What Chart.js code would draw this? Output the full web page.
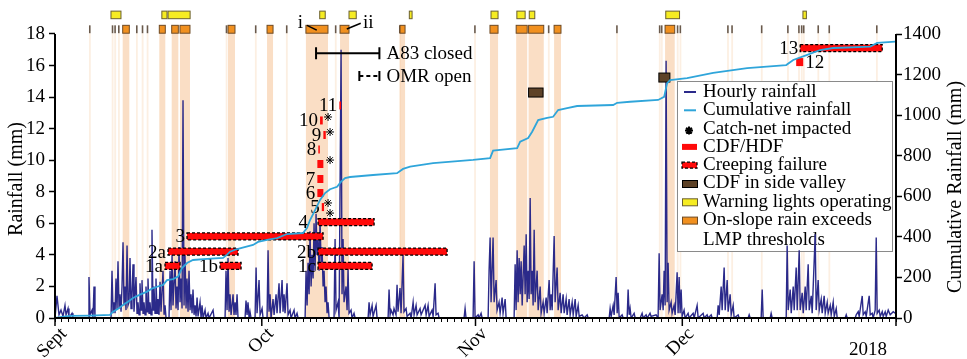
<!DOCTYPE html>
<html>
<head>
<meta charset="utf-8">
<script src="https://cdn.jsdelivr.net/npm/chart.js@4.4.0/dist/chart.umd.min.js"></script>
<style>
  html, body { margin: 0; padding: 0; background: #fff; }
</style>
</head>
<body>
<canvas id="chartCanvas" width="967" height="359"></canvas>
<script>
// x values are days since 1 Sept 2017
const MONTH_TICKS = [0, 30, 61, 91, 122];
const MONTH_LABELS = ['Sept', 'Oct', 'Nov', 'Dec', '2018'];
const RAIN_TICKS = [0, 2, 4, 6, 8, 10, 12, 14, 16, 18];
const CUM_TICKS = [0, 200, 400, 600, 800, 1000, 1200, 1400];

// hourly rainfall (mm), [day, mm]
const hourlyRain = [
  [0,0],[0.29,1.4],[0.58,0.2],[0.87,0.5],[1.16,0.1],[1.45,0.8],[1.60,0.2],[1.89,0.6],[2.03,0],[2.47,0.3],[2.61,0],
  [4.79,0],[4.93,2.6],[5.08,0.2],[5.37,0.5],[5.51,0],[5.66,2.0],[5.80,0],
  [8.13,0],[8.27,3.0],[8.42,0.3],[8.56,1.0],[8.71,0.3],[8.85,2.5],[9.00,0.5],[9.14,3.6],[9.29,0.6],[9.43,1.5],[9.58,0.4],
  [9.72,2.0],[9.87,4.8],[10.01,0.8],[10.16,2.0],[10.30,0.5],[10.45,4.6],[10.59,0.8],[10.74,1.0],[10.88,3.8],[11.03,0.6],
  [11.17,1.5],[11.32,3.4],[11.46,0.4],[11.75,2.6],[11.90,0.3],[12.04,1.0],[12.19,0.2],[12.33,2.2],[12.48,0.5],[12.62,2.4],
  [12.77,0.3],[12.91,1.0],[13.06,0.2],[13.20,2.0],[13.35,0.4],[13.49,2.5],[13.64,0.3],[13.78,1.0],[13.93,0.2],[14.07,5.6],
  [14.22,0.5],[14.36,2.0],[14.51,0.3],[14.65,2.5],[14.80,0.3],[14.94,1.2],[15.09,0.2],[15.24,2.3],[15.38,0.4],[15.67,3.0],
  [15.82,0.2],[15.96,0.8],[16.11,0],
  [16.54,0],[16.69,3.0],[16.83,0.5],[16.98,4.0],[17.12,0.8],[17.41,3.6],[17.56,0.6],[17.70,2.0],[17.85,0.5],[17.99,4.5],
  [18.14,1.0],[18.28,2.5],[18.43,0.6],[18.57,13.8],[18.72,0.8],[18.86,4.0],[19.01,0.6],[19.15,2.5],[19.30,0.4],[19.44,3.0],
  [19.59,0.5],[19.73,1.5],[19.88,0.3],[20.02,1.8],[20.17,0.2],[20.32,0.8],[20.46,0.1],[20.61,1.3],[20.75,0.1],[21.04,1.0],
  [21.19,0],[21.33,0.8],[21.48,0],[21.77,0.5],[21.91,0],[22.20,0.3],[22.35,0],[22.93,0.5],[23.07,0],
  [24.67,0],[24.81,3.0],[24.96,0.5],[25.10,3.8],[25.25,0.4],[25.39,1.5],[25.54,0.2],[25.83,1.5],[25.97,0.2],[26.12,1.0],
  [26.26,0.2],[26.41,1.5],[26.55,0],
  [27.57,0],[27.71,1.1],[27.86,0.2],[28.00,1.0],[28.15,0],[28.29,0.4],[28.44,0],
  [29.02,0],[29.17,3.2],[29.31,0.3],[29.60,2.4],[29.75,0.2],[30.04,0.6],[30.18,0],
  [30.76,0],[30.91,4.3],[31.05,0.4],[31.20,1.5],[31.34,0],[31.63,1.2],[31.78,0.2],[32.07,1.5],[32.21,0.3],[32.50,2.2],
  [32.65,0.3],[32.94,2.4],[33.08,0.4],[33.23,1.5],[33.37,0.3],[33.66,2.2],[33.81,0.2],[34.10,0.5],[34.24,0],[34.68,0.5],
  [34.82,0],[35.11,0.3],[35.26,0],
  [36.28,0],[36.42,3.0],[36.57,0.8],[36.71,3.5],[36.86,1.5],[37.00,5.5],[37.15,2.0],[37.29,4.0],[37.44,2.5],[37.58,6.0],
  [37.73,3.0],[37.87,6.6],[38.02,4.0],[38.16,5.0],[38.31,3.0],[38.45,6.2],[38.60,3.5],[38.74,4.5],[38.89,2.0],[39.03,3.0],
  [39.18,1.0],[39.32,2.0],[39.47,0.3],[39.61,1.0],[39.76,0],
  [40.48,0],[40.63,5.0],[40.77,0.5],[41.06,1.0],[41.21,0],[41.50,17.0],[41.64,1.5],[41.79,5.0],[41.93,1.0],[42.22,2.0],
  [42.37,0.5],[42.51,3.1],[42.66,0.3],[42.95,0.5],[43.09,0],[43.38,0.3],[43.53,0],
  [45.42,0],[45.56,1.0],[45.71,0.2],[46.00,0.8],[46.14,0.1],[46.58,0.8],[46.72,0],
  [48.32,0],[48.46,1.8],[48.61,0.2],[48.75,0.5],[49.04,0.2],[49.18,0.6],[49.47,0.2],[49.62,2.1],[49.76,0.4],[50.05,1.9],
  [50.20,0.3],[50.49,4.0],[50.63,0.4],[50.93,0.6],[51.07,0.1],[51.51,0.3],[51.66,0],[51.95,1.0],[52.09,0.2],[52.38,0.8],
  [52.53,0.2],[52.96,0.6],[53.11,0.2],[53.69,0.8],[53.84,0.2],[54.12,0.8],[54.27,0.1],[54.70,0.5],[54.85,0.1],[55.14,2.2],
  [55.28,0.2],[55.57,0.3],[55.72,0],
  [59.34,0],[59.49,0.6],[59.63,0],[60.65,0],[60.80,3.6],[60.94,0],[61.38,0.2],[61.52,0],[61.81,0.3],[61.96,0],
  [62.83,0],[62.97,3.0],[63.12,5.1],[63.26,1.0],[63.55,5.1],[63.70,1.0],[63.99,2.4],[64.13,0.5],[64.42,1.0],[64.57,0.3],
  [64.86,1.3],[65.00,0.3],[65.30,1.2],[65.44,0],
  [66.60,0],[66.75,3.4],[66.89,0.5],[67.04,4.3],[67.18,1.0],[67.33,3.8],[67.48,1.5],[67.62,3.6],[67.77,0.8],[68.06,4.6],
  [68.20,1.5],[68.35,5.3],[68.49,1.0],[68.64,3.0],[68.78,1.2],[68.93,7.6],[69.07,1.5],[69.22,3.0],[69.36,0.8],[69.51,5.6],
  [69.65,1.0],[69.94,3.0],[70.09,0.5],[70.38,2.0],[70.52,0.3],[70.81,1.0],[70.96,0.3],[71.25,1.3],[71.39,0.3],[71.68,2.4],
  [71.83,0.5],[71.97,1.5],[72.12,0.5],[72.41,5.2],[72.55,1.0],[72.84,3.2],[72.99,0.5],[73.28,1.6],[73.42,0.3],[73.71,1.5],
  [73.86,0.3],[74.15,1.2],[74.29,0.2],[74.58,1.2],[74.73,0.2],[75.02,1.0],[75.17,0.2],[75.46,1.2],[75.60,0.1],[75.89,0.8],
  [76.04,0.1],[76.47,0.2],[76.76,0],[77.20,0.2],[77.34,0],
  [80.39,0],[80.53,0.6],[80.68,0.1],[80.97,0.8],[81.11,0.2],[81.40,2.6],[81.55,0.3],[81.69,1.6],[81.84,0],[82.27,0.2],
  [82.42,0],[83.00,0],[83.14,1.8],[83.29,0.2],[83.43,0.6],[83.58,0],[84.01,0.3],[84.16,0],[84.88,0],[85.17,0.3],[85.32,0],
  [85.75,0.2],[85.90,0],[86.32,0.3],[86.47,0.1],[87.20,0.2],[87.49,0],
  [87.64,4.1],[87.78,0.5],[88.07,1.5],[88.22,0.5],[88.36,3.0],[88.51,0.8],[88.65,16.3],[88.80,1.0],[88.94,3.5],[89.09,0.5],
  [89.38,1.0],[89.52,0.3],[89.81,0.8],[89.96,0.2],[90.25,2.9],[90.39,0.3],[90.54,2.6],[90.68,0.3],[90.83,1.8],[90.97,0.1],
  [91.26,0.5],[91.41,0],[91.84,0.3],[91.99,0],[92.57,0.3],[92.72,0],[93.15,0.8],[93.30,0],[94.02,0.3],[94.17,0],[94.60,0.2],
  [94.75,0],[95.19,0.2],[95.33,0],
  [96.06,0],[96.20,0.8],[96.35,0.2],[96.64,2.0],[96.78,0.5],[97.07,3.2],[97.22,0.5],[97.51,2.4],[97.65,0.4],[97.94,1.5],
  [98.09,0.2],[98.38,0.8],[98.52,0],[99.10,0.2],[99.25,0],[100.55,0],[100.70,0.2],[100.85,0],
  [102.44,0],[102.59,1.8],[102.73,0],[103.75,0],[103.89,0.3],[104.04,0],
  [106.07,0],[106.21,4.6],[106.36,0.5],[106.65,1.8],[106.80,0.3],[107.09,2.0],[107.23,0.5],[107.52,3.2],[107.67,0.5],
  [107.96,4.3],[108.10,0.5],[108.39,1.6],[108.54,0.3],[108.83,2.0],[108.97,0.5],[109.26,3.4],[109.41,0.5],[109.70,1.4],
  [109.84,0.3],[110.28,5.3],[110.42,0.5],[110.71,2.4],[110.86,0.5],[111.15,1.2],[111.29,0.3],[111.58,1.4],[111.73,0.3],
  [112.02,1.0],[112.16,0.3],[112.46,0.8],[112.60,0.2],[112.89,1.0],[113.04,0.1],[113.33,0.6],[113.47,0],
  [114.63,0],[114.78,0.2],[114.92,0],[116.08,0],[116.23,0.2],[116.52,0.4],[116.66,0.1],[117.10,1.4],[117.24,0.2],
  [117.53,0.4],[117.68,0.1],[118.11,1.4],[118.26,0.2],[118.55,0.3],[118.69,0],[118.98,0.5],[119.13,5.1],[119.27,0.3],
  [119.56,0.5],[119.71,0.1],[120.00,0.4],[120.14,0.1],[120.43,0.4],[120.58,0.1],[120.87,0.5],[121.16,0.2],[121.60,0.4],
  [121.88,0.3]
];

// cumulative rainfall (mm), [day, mm]
const cumulativeRain = [
  [0,0],[1.02,6],[2.18,10],[5.08,12],[7.98,15],[8.42,31],[9.14,45],[9.87,64],[10.59,80],[11.32,99],[12.33,115],
  [13.35,130],[14.07,145],[14.80,154],[15.67,163],[16.25,187],[17.12,192],[17.85,204],[18.43,246],[19.15,271],
  [20.02,286],[22.06,291],[24.38,296],[24.96,312],[25.39,327],[26.41,340],[28.73,360],[29.46,375],[30.76,385],
  [32.21,394],[33.66,414],[35.98,419],[36.57,445],[37.00,483],[37.73,532],[38.45,582],[39.18,616],[39.90,635],
  [40.92,647],[41.50,672],[42.08,690],[42.80,695],[46.14,705],[49.62,714],[50.49,735],[51.51,746],[54.85,763],
  [60.65,779],[63.12,788],[63.55,825],[67.04,837],[67.48,869],[68.64,887],[69.22,918],[70.09,976],[71.39,986],
  [72.26,992],[72.99,1025],[74.29,1035],[75.74,1045],[80.97,1050],[81.55,1061],[83.43,1066],[87.49,1075],
  [88.36,1090],[88.80,1158],[89.23,1173],[91.70,1183],[95.48,1208],[100.41,1232],[106.07,1247],[107.09,1272],
  [109.12,1297],[111.00,1321],[112.89,1331],[118.26,1338],[119.27,1356],[121.88,1362]
];

// on-slope rain exceeds LMP thresholds, [start day, end day]
const exceedances = [
  [4.93,5.0],[8.23,8.3],[8.6,8.67],[9.14,9.2],[9.82,10.78],[11.75,11.82],[12.58,12.65],[13.3,13.37],[15.13,16.0],
  [16.93,17.89],[18.13,19.58],[24.76,24.83],[25.1,26.11],[29.0,29.07],[30.76,31.63],[33.5,33.57],[36.4,39.6],
  [40.6,40.67],[41.35,42.65],[49.9,49.97],[50.05,50.78],[60.8,60.87],[63.1,64.27],[66.9,68.5],[68.7,70.9],
  [71.5,71.57],[72.4,73.4],[81.4,81.47],[87.6,87.67],[87.9,87.97],[88.5,89.9],[90.2,90.27],[90.6,90.67],
  [97.5,97.57],[98.1,98.17],[102.4,102.47],[106.2,106.27],[107.8,107.87],[108.2,108.27],[108.5,108.57],
  [110.6,110.67],[112.2,112.27],[119.1,119.17]
];

// warning lights operating, [start day, end day]
const warningLights = [
  [8.12,9.57],[15.5,16.25],[16.4,19.6],[38.4,39.2],[42.65,43.7],[51.4,51.8],[63.25,64.27],[67.0,68.2],
  [68.8,69.6],[88.6,90.6],[108.5,109.0]
];

// CDF/HDF events, [start day, end day, level (mm axis), label]
const cdfEvents = [
  [38.70,39.03,7.03,'5'],[38.06,38.93,7.92,'6'],[38.06,38.93,8.81,'7'],[38.06,38.93,9.76,''],
  [38.20,38.41,10.68,'8'],[38.93,39.28,11.60,'9'],[38.45,38.84,12.52,'10'],[41.25,41.50,13.47,'11'],
  [107.52,108.54,16.22,'12']
];

// creeping failures, [start day, end day, level (mm axis), label]
const creepEvents = [
  [15.96,18.14,3.30,'1a'],[16.40,26.55,4.21,'2a'],[23.94,26.99,3.30,'1b'],[19.15,38.89,5.17,'3'],
  [38.16,46.29,6.08,'4'],[38.16,56.88,4.21,'2b'],[38.16,46.00,3.30,'1c'],[108.1,120.0,17.11,'13']
];

// CDF in side valley, [start day, end day, level (mm axis)]
const sideValleyCdf = [[68.7,70.8,14.29],[87.6,89.2,15.24]];

// catch-net impacted, [day, level (mm axis)]
const catchNet = [[39.61,12.74],[39.90,11.79],[39.90,10.01],[39.61,7.29],[39.90,6.65]];

// road status brackets, [start day, end day, level, text]
const a83Closed = [37.87, 47.06, 16.78, 'A83 closed'];
const omrOpen = [44.15, 47.06, 15.34, 'OMR open'];

// strip callouts, [text, text day, text level, line from day, level, line to day, level]
const stripCallouts = [
  ['i', 35.98, 18.70, 36.55, 18.55, 37.97, 18.25],
  ['ii', 44.69, 18.70, 44.35, 18.68, 42.33, 18.32]
];

const YMAX = 18 * 310 / 284;
const Y2MAX = 1400 * 310 / 284;
const SERIF = '"Liberation Serif", "Times New Roman", serif';
const C_HOURLY = '#2b2a8a';
const C_CUM = '#2fa5da';
const C_RED = '#ff0a0a';
const C_BROWN = '#5e4227';
const C_YELLOW = '#f6ec22';
const C_ORANGE = '#f1901f';

function toXY(arr) {
    return arr.map(p => ({x: p[0], y: p[1]}));
}

function drawCreepRect(ctx, x, y, w, h) {
    ctx.fillStyle = C_RED;
    ctx.fillRect(x, y, w, h);
    ctx.save();
    ctx.setLineDash([3, 2]);
    ctx.lineWidth = 1.3;
    ctx.strokeStyle = '#000';
    ctx.strokeRect(x, y, w, h);
    ctx.restore();
}

function drawBoxed(ctx, x, y, w, h, fill, stroke) {
    ctx.fillStyle = fill;
    ctx.fillRect(x, y, w, h);
    ctx.lineWidth = 1;
    ctx.strokeStyle = stroke;
    ctx.strokeRect(x, y, w, h);
}

function drawLegend(ctx) {
    /*
    legend box inside the plot, top right
    */
    const left = 677.5, top = 81.5, w = 215, h = 170;
    ctx.save();
    ctx.fillStyle = '#fff';
    ctx.fillRect(left, top, w, h);
    ctx.strokeStyle = '#8a8a8a';
    ctx.lineWidth = 1;
    ctx.strokeRect(left, top, w, h);

    const items = ['Hourly rainfall', 'Cumulative rainfall', 'Catch-net impacted', 'CDF/HDF', 'Creeping failure',
                   'CDF in side valley', 'Warning lights operating', 'On-slope rain exceeds', 'LMP thresholds'];
    const sx = 682, tx = 703;
    ctx.font = '19px ' + SERIF;
    ctx.textBaseline = 'middle';
    ctx.textAlign = 'left';
    items.forEach((txt, i) => {
        let y = 92 + i * 18.3 + (i === 8 ? 2 : 0);
        if (i === 0 || i === 1) {
            ctx.strokeStyle = i === 0 ? C_HOURLY : C_CUM;
            ctx.lineWidth = 2;
            ctx.beginPath(); ctx.moveTo(sx + 2, y); ctx.lineTo(sx + 14, y); ctx.stroke();
        } else if (i === 2) {
            ctx.strokeStyle = '#000';
            ctx.fillStyle = '#000';
            Chart.helpers.drawPoint(ctx, {pointStyle: 'star', radius: 4, borderWidth: 1}, sx + 7, y + 2);
        } else if (i === 3) {
            ctx.fillStyle = C_RED; ctx.fillRect(sx, y - 3, 15, 6);
        } else if (i === 4) {
            drawCreepRect(ctx, sx, y - 3, 15, 6);
        } else if (i === 5) {
            drawBoxed(ctx, sx + 0.5, y - 3, 15, 7, C_BROWN, '#000');
        } else if (i === 6) {
            drawBoxed(ctx, sx + 0.5, y - 3, 15, 7, C_YELLOW, '#6b6030');
        } else if (i === 7) {
            drawBoxed(ctx, sx + 0.5, y - 3, 15, 7, C_ORANGE, '#6e4a24');
        }
        ctx.fillStyle = '#000';
        ctx.fillText(txt, tx, y);
    });
    ctx.restore();
}

const overlayPlugin = {
    id: 'overlay',
    beforeDatasetsDraw(chart) {
        const ctx = chart.ctx, xs = chart.scales.x, ys = chart.scales.y;
        ctx.save();
        // shaded threshold bands and top strip
        const y0 = ys.getPixelForValue(0), yb = ys.getPixelForValue(18.05);
        const oTop = ys.getPixelForValue(18.55), yTop = ys.getPixelForValue(19.45), yBot = ys.getPixelForValue(18.97);
        exceedances.forEach(([a, b]) => {
            let x0 = xs.getPixelForValue(a), x1 = xs.getPixelForValue(b);
            let thin = (b - a) < 0.2;
            ctx.fillStyle = thin ? 'rgba(246,196,150,0.28)' : 'rgba(246,190,140,0.5)';
            ctx.fillRect(x0, yb, Math.max(x1 - x0, 1.8), y0 - yb);
            if (thin) {
                ctx.fillStyle = '#6a5a4c';
                ctx.fillRect(x0, oTop, 1.6, yb - oTop);
            } else {
                drawBoxed(ctx, x0, oTop, x1 - x0, yb - oTop, C_ORANGE, '#6e4a24');
            }
        });
        warningLights.forEach(([a, b]) => {
            let x0 = xs.getPixelForValue(a), x1 = xs.getPixelForValue(b);
            drawBoxed(ctx, x0, yTop, Math.max(x1 - x0, 2), yBot - yTop, C_YELLOW, '#6b6030');
        });
        ctx.restore();
        drawLegend(ctx);
    },
    afterDatasetDraw(chart, args) {
        // event bars sit above hourly rainfall, below cumulative line
        if (chart.data.datasets[args.index].label !== 'Hourly rainfall') return;
        const ctx = chart.ctx, xs = chart.scales.x, ys = chart.scales.y;
        ctx.save();
        ctx.font = '19px ' + SERIF;
        ctx.fillStyle = '#000';
        ctx.textBaseline = 'middle';
        creepEvents.forEach(([a, b, lvl, lab]) => {
            let x0 = xs.getPixelForValue(a), x1 = xs.getPixelForValue(b), yc = ys.getPixelForValue(lvl);
            drawCreepRect(ctx, x0, yc - 3.5, x1 - x0, 7);
            ctx.fillStyle = '#000';
            ctx.textAlign = 'right';
            ctx.fillText(lab, x0 - (lab === '4' ? 10 : 2), yc + 1);
        });
        cdfEvents.forEach(([a, b, lvl, lab]) => {
            let x0 = xs.getPixelForValue(a), x1 = xs.getPixelForValue(b), yc = ys.getPixelForValue(lvl);
            ctx.fillStyle = C_RED;
            ctx.fillRect(x0, yc - 4, Math.max(x1 - x0, 1.5), 8);
            ctx.fillStyle = '#000';
            if (lab === '12') {
                ctx.textAlign = 'left';
                ctx.fillText(lab, x1 + 2, yc + 1);
            } else {
                ctx.textAlign = 'right';
                ctx.fillText(lab, x0 - 2, yc + 1);
            }
        });
        sideValleyCdf.forEach(([a, b, lvl]) => {
            let x0 = xs.getPixelForValue(a), x1 = xs.getPixelForValue(b), yc = ys.getPixelForValue(lvl);
            drawBoxed(ctx, x0, yc - 4.5, x1 - x0, 9, C_BROWN, '#000');
        });
        ctx.restore();
    },
    afterDatasetsDraw(chart) {
        const ctx = chart.ctx, xs = chart.scales.x, ys = chart.scales.y, y2 = chart.scales.y2;
        const area = chart.chartArea;
        ctx.save();
        ctx.strokeStyle = '#000';
        ctx.fillStyle = '#000';

        // axis lines
        ctx.lineWidth = 2;
        ctx.beginPath();
        ctx.moveTo(area.left, ys.getPixelForValue(18));
        ctx.lineTo(area.left, ys.getPixelForValue(0));
        ctx.lineTo(area.right, ys.getPixelForValue(0));
        ctx.moveTo(area.right, y2.getPixelForValue(0));
        ctx.lineTo(area.right, y2.getPixelForValue(1400));
        ctx.stroke();

        // month ticks and labels
        const yAxis = ys.getPixelForValue(0);
        ctx.lineWidth = 1.5;
        MONTH_TICKS.forEach(d => {
            let px = xs.getPixelForValue(d);
            ctx.beginPath(); ctx.moveTo(px, yAxis); ctx.lineTo(px, yAxis + 8); ctx.stroke();
        });
        ctx.font = '19px ' + SERIF;
        MONTH_TICKS.forEach((d, i) => {
            let px = xs.getPixelForValue(d);
            if (MONTH_LABELS[i] === '2018') {
                ctx.textAlign = 'right';
                ctx.textBaseline = 'alphabetic';
                ctx.fillText(MONTH_LABELS[i], px - 9, yAxis + 37);
            } else {
                ctx.save();
                ctx.translate(px + 9, yAxis + 13);
                ctx.rotate(-Math.PI / 4);
                ctx.textAlign = 'right';
                ctx.textBaseline = 'middle';
                ctx.fillText(MONTH_LABELS[i], 0, 0);
                ctx.restore();
            }
        });

        // axis titles
        ctx.font = '20px ' + SERIF;
        ctx.textAlign = 'center';
        ctx.textBaseline = 'middle';
        ctx.save();
        ctx.translate(17, 179);
        ctx.rotate(-Math.PI / 2);
        ctx.fillText('Rainfall (mm)', 0, 0);
        ctx.restore();
        ctx.save();
        ctx.translate(956, 187);
        ctx.rotate(-Math.PI / 2);
        ctx.fillText('Cumulative Rainfall (mm)', 0, 0);
        ctx.restore();

        // road status brackets
        ctx.font = '19px ' + SERIF;
        ctx.textAlign = 'left';
        [a83Closed, omrOpen].forEach((br, k) => {
            let x0 = xs.getPixelForValue(br[0]), x1 = xs.getPixelForValue(br[1]), yc = ys.getPixelForValue(br[2]);
            ctx.lineWidth = 2;
            ctx.setLineDash(k === 1 ? [4, 3] : []);
            ctx.beginPath(); ctx.moveTo(x0, yc); ctx.lineTo(x1, yc); ctx.stroke();
            ctx.setLineDash([]);
            let cap = k === 1 ? 5 : 6;
            ctx.beginPath();
            ctx.moveTo(x0, yc - cap); ctx.lineTo(x0, yc + cap);
            ctx.moveTo(x1, yc - cap); ctx.lineTo(x1, yc + cap);
            ctx.stroke();
            ctx.fillText(br[3], x1 + 7, yc + 1);
        });

        // strip callouts
        ctx.lineWidth = 1.5;
        stripCallouts.forEach(([txt, tdx, tlv, ax, al, bx, bl]) => {
            ctx.textAlign = txt === 'i' ? 'right' : 'left';
            ctx.fillText(txt, xs.getPixelForValue(tdx), ys.getPixelForValue(tlv));
            ctx.beginPath();
            ctx.moveTo(xs.getPixelForValue(ax), ys.getPixelForValue(al));
            ctx.lineTo(xs.getPixelForValue(bx), ys.getPixelForValue(bl));
            ctx.stroke();
        });
        ctx.restore();
    }
};

const tickFont = {family: SERIF, size: 19};

const chart = new Chart(document.getElementById('chartCanvas').getContext('2d'), {
    type: 'line',
    data: {
        datasets: [
            {
                label: 'Catch-net impacted',
                data: toXY(catchNet),
                yAxisID: 'y',
                showLine: false,
                pointStyle: 'star',
                pointRadius: 4,
                borderColor: '#000',
                pointBorderWidth: 1
            },
            {
                label: 'Cumulative rainfall',
                data: toXY(cumulativeRain),
                yAxisID: 'y2',
                borderColor: C_CUM,
                borderWidth: 1.8,
                pointRadius: 0,
                tension: 0,
                fill: false
            },
            {
                label: 'Hourly rainfall',
                data: toXY(hourlyRain),
                yAxisID: 'y',
                borderColor: C_HOURLY,
                borderWidth: 1.4,
                pointRadius: 0,
                tension: 0,
                fill: false
            }
        ]
    },
    options: {
        responsive: false,
        animation: false,
        devicePixelRatio: 1,
        layout: {padding: {top: 8, left: 0, right: 0, bottom: 0}},
        plugins: {
            legend: {display: false},
            tooltip: {enabled: false}
        },
        scales: {
            x: {
                type: 'linear',
                min: 0,
                max: 122,
                position: 'bottom',
                border: {display: false},
                grid: {drawOnChartArea: false, drawTicks: true, tickLength: 4, color: '#000', tickWidth: 1},
                ticks: {display: false, autoSkip: false},
                afterBuildTicks: s => {
                    let t = [];
                    for (let d = 0; d <= 122; d++) t.push({value: d});
                    s.ticks = t;
                },
                afterFit: s => { s.height = 41; s.paddingLeft = 0; s.paddingRight = 0; }
            },
            y: {
                type: 'linear',
                position: 'left',
                min: 0,
                max: YMAX,
                border: {display: false},
                grid: {drawOnChartArea: false, drawTicks: true, tickLength: 6, color: '#000', tickWidth: 1.5},
                ticks: {font: tickFont, color: '#000', padding: 4, callback: v => String(v)},
                afterBuildTicks: s => { s.ticks = RAIN_TICKS.map(v => ({value: v})); },
                afterFit: s => { s.width = 55; s.paddingTop = 0; s.paddingBottom = 0; }
            },
            y2: {
                type: 'linear',
                position: 'right',
                min: 0,
                max: Y2MAX,
                border: {display: false},
                grid: {drawOnChartArea: false, drawTicks: true, tickLength: 6, color: '#000', tickWidth: 1.5},
                ticks: {font: tickFont, color: '#000', padding: 1, callback: v => String(v)},
                afterBuildTicks: s => { s.ticks = CUM_TICKS.map(v => ({value: v})); },
                afterFit: s => { s.width = 71; s.paddingTop = 0; s.paddingBottom = 0; }
            }
        }
    },
    plugins: [overlayPlugin]
});
</script>
</body>
</html>
